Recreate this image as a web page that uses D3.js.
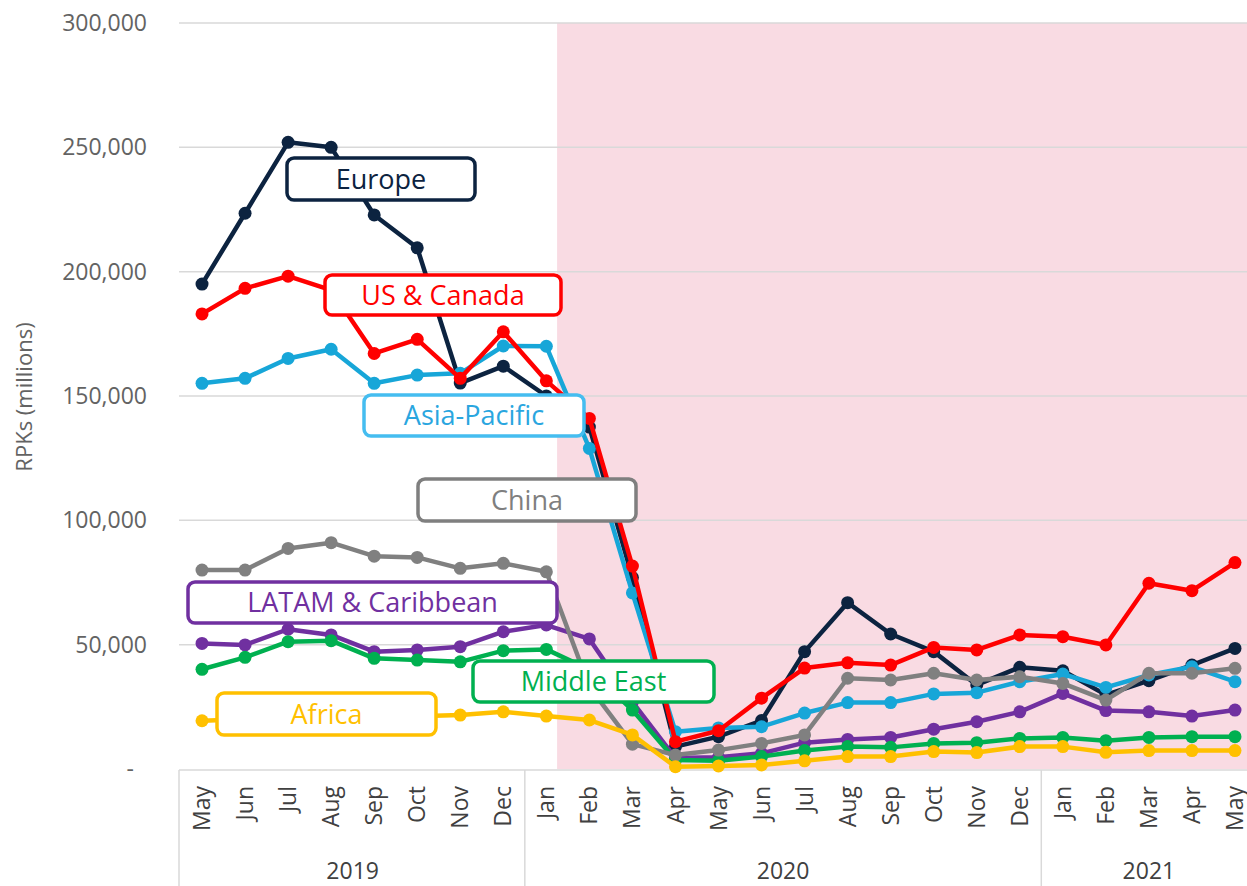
<!DOCTYPE html>
<html>
<head>
<meta charset="utf-8">
<script src="https://d3js.org/d3.v7.min.js"></script>
<style>
body { margin: 0; background: #fff; }
svg { display: block; font-family: "Open Sans", "DejaVu Sans", sans-serif; }
</style>
</head>
<body>
<div id="chart"></div>
<script>
// months May 2019 .. May 2021
var months = ["May","Jun","Jul","Aug","Sep","Oct","Nov","Dec",
              "Jan","Feb","Mar","Apr","May","Jun","Jul","Aug","Sep","Oct","Nov","Dec",
              "Jan","Feb","Mar","Apr","May"];
var years = ["2019", "2020", "2021"];
var yearStart = [0, 8, 20];   // first month index of each year
var shadeFrom = 8;            // Jan 2020
var yTicks = [0, 50000, 100000, 150000, 200000, 250000, 300000];

// RPKs (millions)
var europe      = [195000, 223500, 252000, 250000, 222800, 209600, 155200, 162000, 150000, 137500, 77000, 9000, 13000, 19500, 47200, 66900, 54300, 47200, 33800, 40900, 39500, 29800, 35500, 41800, 48500];
var usCanada    = [183000, 193300, 198200, 192600, 167100, 172800, 157100, 175800, 156100, 141000, 81600, 11000, 15400, 28500, 40600, 42700, 41800, 48900, 47900, 53900, 53200, 49900, 74700, 71700, 83000];
var asiaPacific = [155100, 157100, 165100, 168800, 155100, 158400, 159100, 170100, 170000, 128900, 70800, 15000, 16500, 17000, 22500, 26700, 26700, 30200, 30700, 35100, 38200, 32800, 37800, 41100, 35100];
var china       = [80000, 80000, 88700, 91000, 85600, 85100, 80700, 82700, 79300, 33000, 10000, 5600, 7600, 10300, 13700, 36500, 35800, 38500, 35800, 37100, 34400, 27700, 38500, 38500, 40500];
var latam       = [50500, 49900, 56200, 53900, 47200, 47900, 49200, 55200, 57900, 52300, 27000, 4400, 4700, 6300, 10600, 11900, 12700, 16000, 19000, 23000, 30400, 23500, 23000, 21300, 23700];
var middleEast  = [40100, 44900, 51200, 51600, 44500, 43800, 43100, 47600, 48100, 40000, 23700, 3600, 3300, 5000, 7400, 9000, 8700, 10300, 10600, 12300, 12700, 11400, 12700, 13000, 13000];
var africa      = [19400, 20000, 21000, 21500, 21000, 21200, 21700, 23000, 21300, 19700, 13700, 900, 1200, 1600, 3300, 5000, 5000, 7000, 6600, 9000, 9000, 6700, 7400, 7400, 7400];

// draw order bottom -> top
var series = [
  {name: "Europe",            values: europe,      color: "#0c2340"},
  {name: "Asia-Pacific",      values: asiaPacific, color: "#17a6d8"},
  {name: "LATAM & Caribbean", values: latam,       color: "#7030a0"},
  {name: "Middle East",       values: middleEast,  color: "#00b050"},
  {name: "China",             values: china,       color: "#808080"},
  {name: "Africa",            values: africa,      color: "#ffc000"},
  {name: "US & Canada",       values: usCanada,    color: "#ff0000"}
];

// callout boxes (layout only)
var callouts = [
  {name: "Europe",            x: 287, y: 158, w: 188, h: 42, color: "#0c2340", text: "#0c2340"},
  {name: "US & Canada",       x: 325, y: 275, w: 236, h: 40, color: "#ff0000", text: "#ff0000"},
  {name: "Asia-Pacific",      x: 364, y: 395, w: 220, h: 41, color: "#45bdf0", text: "#2aa6df"},
  {name: "China",             x: 418, y: 479, w: 218, h: 42, color: "#7f7f7f", text: "#7f7f7f"},
  {name: "LATAM & Caribbean", x: 188, y: 582, w: 369, h: 41, color: "#7030a0", text: "#7030a0"},
  {name: "Middle East",       x: 473, y: 661, w: 241, h: 41, color: "#00b050", text: "#00b050"},
  {name: "Africa",            x: 217, y: 693, w: 219, h: 42, color: "#ffc000", text: "#ffc000"}
];

var W = 1247, H = 886;
var svg = d3.select("#chart").append("svg")
    .attr("width", W)
    .attr("height", H);

var x = d3.scaleBand()
    .domain(d3.range(months.length))
    .range([180.5, 1256.5]);
var bw = x.bandwidth();
var cx = function(i) { return x(i) + bw / 2; };

var y = d3.scaleLinear()
    .domain([0, 300000])
    .range([769, 23]);

// pink shaded period (from Jan 2020 onwards)
svg.append("rect")
    .attr("x", x(shadeFrom) + bw * 0.75)
    .attr("y", y(300000))
    .attr("width", W - (x(shadeFrom) + bw * 0.75))
    .attr("height", y(0) - y(300000))
    .attr("fill", "#f9dbe3");

// gridlines
svg.append("g").selectAll("line")
  .data(yTicks.filter(function(d) { return d > 0; }))
  .enter().append("line")
    .attr("x1", 179).attr("x2", W)
    .attr("y1", function(d) { return y(d); })
    .attr("y2", function(d) { return y(d); })
    .attr("stroke", "#d9d9d9")
    .attr("stroke-width", 1.5);

// y tick labels
svg.append("g").selectAll("text")
  .data(yTicks)
  .enter().append("text")
    .attr("x", function(d) { return d === 0 ? 134 : 147; })
    .attr("y", function(d) { return y(d); })
    .attr("dy", "0.35em")
    .attr("text-anchor", "end")
    .attr("fill", "#636363")
    .style("font-size", "23px")
    .text(function(d) { return d === 0 ? "-" : d3.format(",")(d); });

// y title
svg.append("text")
    .attr("transform", "translate(32,397) rotate(-90)")
    .attr("text-anchor", "middle")
    .attr("fill", "#636363")
    .style("font-size", "22px")
    .text("RPKs (millions)");

// x axis: baseline, year separators, month and year labels
var xa = svg.append("g");
xa.append("line")
    .attr("x1", 179).attr("x2", W)
    .attr("y1", 770).attr("y2", 770)
    .attr("stroke", "#d9d9d9").attr("stroke-width", 1.5);

xa.selectAll("line.sep")
  .data(yearStart)
  .enter().append("line")
    .attr("class", "sep")
    .attr("x1", function(d) { return d === 0 ? 179 : x(d); })
    .attr("x2", function(d) { return d === 0 ? 179 : x(d); })
    .attr("y1", 770).attr("y2", H)
    .attr("stroke", "#d9d9d9").attr("stroke-width", 1.5);

xa.selectAll("text.month")
  .data(months)
  .enter().append("text")
    .attr("class", "month")
    .attr("transform", function(d, i) { return "translate(" + cx(i) + ",786) rotate(-90)"; })
    .attr("dy", "0.35em")
    .attr("text-anchor", "end")
    .attr("fill", "#404040")
    .style("font-size", "23px")
    .text(function(d) { return d; });

xa.selectAll("text.year")
  .data(years)
  .enter().append("text")
    .attr("class", "year")
    .attr("x", function(d, i) {
      var a = x(yearStart[i]);
      var b = i < years.length - 1 ? x(yearStart[i + 1]) : x(months.length - 1) + bw;
      return (a + b) / 2;
    })
    .attr("y", 879)
    .attr("text-anchor", "middle")
    .attr("fill", "#404040")
    .style("font-size", "23px")
    .text(function(d) { return d; });

// lines + markers
var line = d3.line()
    .x(function(d, i) { return cx(i); })
    .y(function(d) { return y(d); });

series.forEach(function(s) {
  var g = svg.append("g");
  g.append("path")
    .datum(s.values)
    .attr("d", line)
    .attr("fill", "none")
    .attr("stroke", s.color)
    .attr("stroke-width", 4.5)
    .attr("stroke-linejoin", "round");
  g.selectAll("circle")
    .data(s.values)
    .enter().append("circle")
      .attr("cx", function(d, i) { return cx(i); })
      .attr("cy", function(d) { return y(d); })
      .attr("r", 6.5)
      .attr("fill", s.color);
});

// callout labels
var cg = svg.append("g").selectAll("g")
  .data(callouts)
  .enter().append("g");
cg.append("rect")
    .attr("x", function(d) { return d.x; })
    .attr("y", function(d) { return d.y; })
    .attr("width", function(d) { return d.w; })
    .attr("height", function(d) { return d.h; })
    .attr("rx", 7)
    .attr("fill", "#fff")
    .attr("stroke", function(d) { return d.color; })
    .attr("stroke-width", 3.5);
cg.append("text")
    .attr("x", function(d) { return d.x + d.w / 2; })
    .attr("y", function(d) { return d.y + d.h / 2; })
    .attr("dy", "0.36em")
    .attr("text-anchor", "middle")
    .attr("fill", function(d) { return d.text; })
    .style("font-size", "27px")
    .text(function(d) { return d.name; });
</script>
</body>
</html>
